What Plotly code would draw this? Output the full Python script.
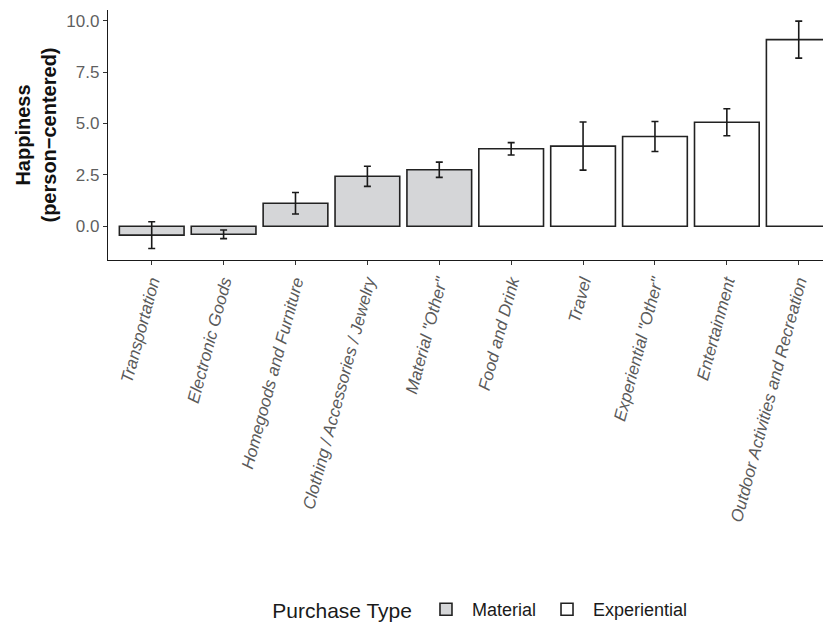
import plotly.graph_objects as go

categories = ["Transportation", "Electronic Goods", "Homegoods and Furniture",
              "Clothing / Accessories / Jewelry", 'Material "Other"', "Food and Drink",
              "Travel", 'Experiential "Other"', "Entertainment",
              "Outdoor Activities and Recreation"]
purchase_type = ["Material"] * 5 + ["Experiential"] * 5
happiness = [-0.43, -0.39, 1.12, 2.43, 2.75, 3.77, 3.90, 4.37, 5.06, 9.08]
error = [0.65, 0.21, 0.52, 0.49, 0.37, 0.30, 1.17, 0.73, 0.66, 0.90]
type_colors = {"Material": "#D5D6D8", "Experiential": "#FFFFFF"}
ytick_vals = [0.0, 2.5, 5.0, 7.5, 10.0]

FONT = "Liberation Sans, Arial, sans-serif"
fig = go.Figure()
for t in ["Material", "Experiential"]:
    idx = [i for i, p in enumerate(purchase_type) if p == t]
    fig.add_trace(go.Bar(
        x=[categories[i] for i in idx],
        y=[happiness[i] for i in idx],
        name=t,
        width=0.9,
        marker=dict(color=type_colors[t], line=dict(color="#222222", width=1.6)),
        error_y=dict(type="data", array=[error[i] for i in idx], visible=True,
                     color="#1a1a1a", thickness=1.6, width=3.5),
    ))

fig.update_layout(
    width=831, height=629,
    margin=dict(l=100, r=0, t=2, b=377, autoexpand=False),
    plot_bgcolor="white", paper_bgcolor="white",
    barmode="overlay",
    font=dict(family=FONT),
    showlegend=True,
    legend=dict(
        orientation="h", x=0.222, xanchor="left", y=-1.4, yanchor="middle",
        title=dict(text="Purchase Type", font=dict(size=21, color="#1a1a1a")),
        font=dict(size=18, color="#1a1a1a"),
        itemwidth=42,
    ),
    xaxis=dict(
        categoryorder="array", categoryarray=categories,
        range=[-0.608, 9.56],
        showline=True, linecolor="#1a1a1a", linewidth=1.3,
        ticks="outside", ticklen=4, tickcolor="#333333", tickwidth=1.1,
        tickangle=-75,
        tickfont=dict(size=17, color="#5a5a5a", family=FONT, style="italic"),
        showgrid=False, zeroline=False,
    ),
    yaxis=dict(
        range=[-1.64, 10.52],
        tickvals=ytick_vals, ticktext=[f"{v:.1f}" for v in ytick_vals],
        showline=True, linecolor="#1a1a1a", linewidth=1.3,
        ticks="outside", ticklen=4, tickcolor="#333333", tickwidth=1.1,
        tickfont=dict(size=17, color="#5f5f5f"),
        showgrid=False, zeroline=False,
        title=dict(text="<b>Happiness</b><br><b>(person−centered)</b>",
                   font=dict(size=20, color="#111111"), standoff=4),
    ),
)

fig.write_html("out.html")
